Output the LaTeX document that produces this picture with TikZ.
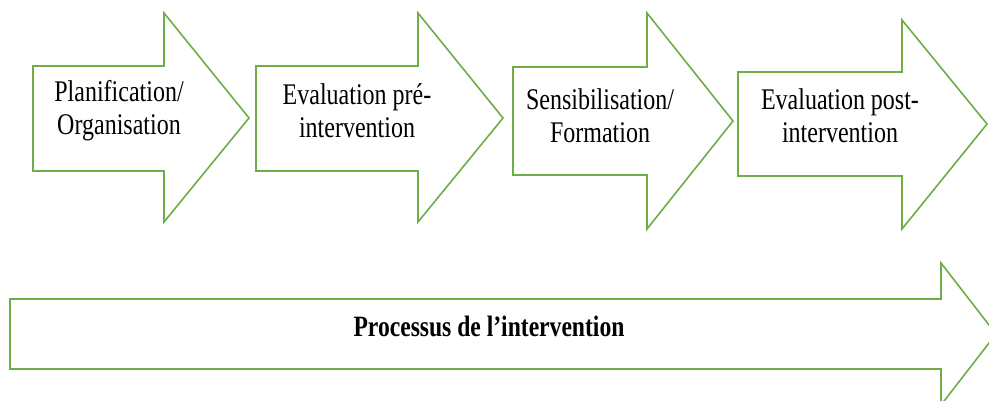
\documentclass[tikz,border=0pt]{standalone}
\usepackage{fontspec}
\usepackage{tikz}
\newfontfamily\stepfont[FakeStretch=0.8]{Liberation Serif}
\definecolor{officegreen}{RGB}{112,173,71}

\begin{document}
\begin{tikzpicture}[x=1pt,y=-1pt,line join=miter,step arrow/.style={draw=officegreen,line width=1.6pt,fill=white},step label/.style={align=center,inner sep=0pt,font=\stepfont\fontsize{30}{33}\selectfont}]
  \clip (0,0) rectangle (989,400);
  \fill[white] (0,0) rectangle (989,400);

  % top row
  \draw[step arrow] (33,66) -- (164,66) -- (164,13) -- (249,118) -- (164,222) -- (164,171) -- (33,171) -- cycle;
  \draw[step arrow] (256,66) -- (418,66) -- (418,13) -- (503,118) -- (418,222) -- (418,171) -- (256,171) -- cycle;
  \draw[step arrow] (513,67) -- (647,67) -- (647,13) -- (733,121) -- (647,229) -- (647,175) -- (513,175) -- cycle;
  \draw[step arrow] (738,72) -- (902,72) -- (902,20) -- (987,124) -- (902,229) -- (902,176) -- (738,176) -- cycle;

  \node[step label] (plan) at (119,111) {Planification/\\Organisation};
  \node[step label] (preeval) at (357,111) {Evaluation pré-\\intervention};
  \node[step label] (sensib) at (600,116) {Sensibilisation/\\Formation};
  \node[step label] (posteval) at (840,116) {Evaluation post-\\intervention};

  % bottom
  \draw[step arrow] (10,299) -- (941,299) -- (941,263) -- (996,334) -- (941,405) -- (941,369) -- (10,369) -- cycle;
  \node[inner sep=0pt,font=\stepfont\bfseries\fontsize{29.5}{33}\selectfont] (process) at (489,326) {Processus de l’intervention};
\end{tikzpicture}
\end{document}
